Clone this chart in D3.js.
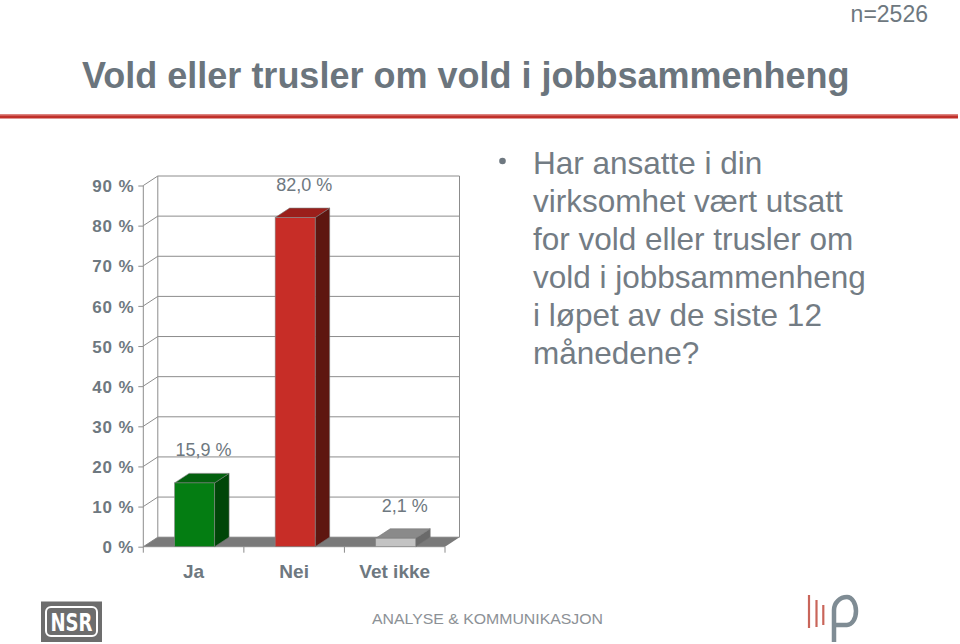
<!DOCTYPE html>
<html><head><meta charset="utf-8">
<script src="https://cdn.jsdelivr.net/npm/d3@7"></script>
<style>body{margin:0;background:#fff}svg{display:block;font-family:"Liberation Sans",Arial,sans-serif}</style>
</head><body><svg id="c" width="960" height="644"></svg>
<script>
const categories = ["Ja", "Nei", "Vet ikke"];
const values = [15.9, 82.0, 2.1];
const valueLabels = ["15,9 %", "82,0 %", "2,1 %"];
const yTicks = [0, 10, 20, 30, 40, 50, 60, 70, 80, 90];
const tickLabels = ["0 %", "10 %", "20 %", "30 %", "40 %", "50 %", "60 %", "70 %", "80 %", "90 %"];
const questionLines = ["Har ansatte i din", "virksomhet vært utsatt", "for vold eller trusler om", "vold i jobbsammenheng", "i løpet av de siste 12", "månedene?"];
const titleText = "Vold eller trusler om vold i jobbsammenheng";
const nText = "n=2526";

const faceColors = [
  {front:"#047d12", top:"#03600e", side:"#004608"},
  {front:"#c72d27", top:"#9b1f1b", side:"#5e1610"},
  {front:"#c3c3c3", top:"#8a8a8a", side:"#6a6a6a"}
];
const textGray = "#6e7880";

const svg = d3.select("#c");
const dx = 14.5, dy = -9.5;
const y = d3.scaleLinear().domain([0, 90]).range([546.7, 185.5]);
const x = d3.scaleBand().domain(categories).range([143.3, 445]).paddingInner(0).paddingOuter(0);
const barW = 40;

// header
svg.append("text").attr("x", 928).attr("y", 22).attr("text-anchor", "end")
  .attr("font-size", 23).attr("fill", textGray).text(nText);
svg.append("text").attr("x", 82).attr("y", 88).attr("font-size", 36).attr("font-weight", "bold")
  .attr("fill", "#6b757d").text(titleText);
svg.append("rect").attr("x", 0).attr("y", 114.5).attr("width", 958).attr("height", 4).attr("fill", "#c0302a");
svg.append("rect").attr("x", 0).attr("y", 114.5).attr("width", 958).attr("height", 1.2).attr("fill", "#d9706b");

// walls and gridlines
const g = svg.append("g");
const x0 = x.range()[0], x1 = x.range()[1];
const gridC = "#8c8c8c";
yTicks.forEach(t => {
  g.append("line").attr("x1", x0 + dx).attr("x2", x1 + dx).attr("y1", y(t) + dy).attr("y2", y(t) + dy)
    .attr("stroke", gridC).attr("stroke-width", 1);
  g.append("line").attr("x1", x0).attr("x2", x0 + dx).attr("y1", y(t)).attr("y2", y(t) + dy)
    .attr("stroke", gridC).attr("stroke-width", 1);
});
g.append("line").attr("x1", x0 + dx).attr("x2", x0 + dx).attr("y1", y(0) + dy).attr("y2", y(90) + dy).attr("stroke", gridC);
g.append("line").attr("x1", x1 + dx).attr("x2", x1 + dx).attr("y1", y(0) + dy).attr("y2", y(90) + dy).attr("stroke", gridC);

// floor
g.append("polygon").attr("points", [[x0, y(0)], [x1, y(0)], [x1 + dx, y(0) + dy], [x0 + dx, y(0) + dy]].join(" "))
  .attr("fill", "#7a7a7a");

// y axis
const yAxis = d3.axisLeft(y).tickValues(yTicks).tickSize(5).tickPadding(4)
  .tickFormat((d, i) => tickLabels[i]);
const ya = svg.append("g").attr("transform", `translate(${x0},0)`).call(yAxis);
ya.select(".domain").attr("stroke", gridC).attr("d", `M-0,${y(90)}V${y(0)}`);
ya.selectAll(".tick line").attr("stroke", gridC);
ya.selectAll(".tick text").attr("font-size", 17).attr("font-weight", "bold").attr("fill", textGray)
  .attr("letter-spacing", 0.8)
  .attr("font-family", "Liberation Sans, Arial, sans-serif").attr("dy", "0.36em");

// x axis
const xAxis = d3.axisBottom(x).tickSize(0);
const xa = svg.append("g").attr("transform", `translate(0,${y(0)})`).call(xAxis);
xa.select(".domain").attr("stroke", gridC).attr("d", `M${x0},0H${x1}`);
xa.selectAll(".tick text").attr("font-size", 19).attr("font-weight", "bold").attr("fill", textGray)
  .attr("font-family", "Liberation Sans, Arial, sans-serif").attr("y", 31.3).attr("dy", 0);
const bounds = [x0].concat(categories.map(c => x(c) + x.bandwidth()));
bounds.forEach(b => svg.append("line").attr("x1", b).attr("x2", b).attr("y1", y(0)).attr("y2", y(0) + 6).attr("stroke", gridC));

// bars
const bars = svg.append("g");
categories.forEach((c, i) => {
  const cx = x(c) + x.bandwidth() / 2;
  const bx0 = cx - barW / 2 + 1, bx1 = bx0 + barW;
  const yt = y(values[i]), yb = y(0);
  const col = faceColors[i];
  bars.append("polygon").attr("points", [[bx1, yt], [bx1 + dx, yt + dy], [bx1 + dx, yb + dy], [bx1, yb]].join(" "))
    .attr("fill", col.side).attr("stroke", "#777").attr("stroke-width", 0.6);
  bars.append("polygon").attr("points", [[bx0, yt], [bx1, yt], [bx1 + dx, yt + dy], [bx0 + dx, yt + dy]].join(" "))
    .attr("fill", col.top).attr("stroke", "#777").attr("stroke-width", 0.6);
  bars.append("rect").attr("x", bx0).attr("y", yt).attr("width", barW).attr("height", yb - yt)
    .attr("fill", col.front).attr("stroke", "#888").attr("stroke-width", 0.6);
  svg.append("text").attr("x", cx + 10).attr("y", yt + dy - 17).attr("text-anchor", "middle")
    .attr("font-size", 18).attr("fill", textGray).text(valueLabels[i]);
});

// question text
svg.append("circle").attr("cx", 502.5).attr("cy", 161).attr("r", 3.3).attr("fill", textGray);
const q = svg.append("text").attr("font-size", 31.5).attr("fill", "#737c84");
questionLines.forEach((l, i) => q.append("tspan").attr("x", 533).attr("y", 174.3 + i * 38).text(l));

// footer logos
const nsr = svg.append("g");
nsr.append("rect").attr("x", 41).attr("y", 601.5).attr("width", 61).attr("height", 40.5).attr("fill", "#6d6d6d");
nsr.append("rect").attr("x", 46).attr("y", 607).attr("width", 51).attr("height", 29).attr("rx", 5)
  .attr("fill", "none").attr("stroke", "#fff").attr("stroke-width", 2);
nsr.append("text").attr("x", 71.5).attr("y", 631).attr("text-anchor", "middle").attr("font-size", 24)
  .attr("font-weight", "bold").attr("font-family", "DejaVu Sans Condensed, sans-serif").attr("fill", "#fff")
  .attr("textLength", 42).attr("lengthAdjust", "spacingAndGlyphs").text("NSR");
svg.append("text").attr("x", 372).attr("y", 624.3).attr("font-size", 15.5).attr("fill", "#8c9196")
  .attr("textLength", 231).attr("lengthAdjust", "spacingAndGlyphs").text("ANALYSE & KOMMUNIKASJON");
const lp = svg.append("g");
[[809, 595, 628], [816.5, 600, 627], [823.3, 605, 625]].forEach(d =>
  lp.append("line").attr("x1", d[0]).attr("x2", d[0]).attr("y1", d[1]).attr("y2", d[2])
    .attr("stroke", "#c9655a").attr("stroke-width", 2.2));
lp.append("path").attr("d", "M834,642V610a13,13 0 0 1 13,-13a9,14 0 0 1 0,28h-13")
  .attr("fill", "none").attr("stroke", "#7f8c94").attr("stroke-width", 4.5);
</script></body></html>
